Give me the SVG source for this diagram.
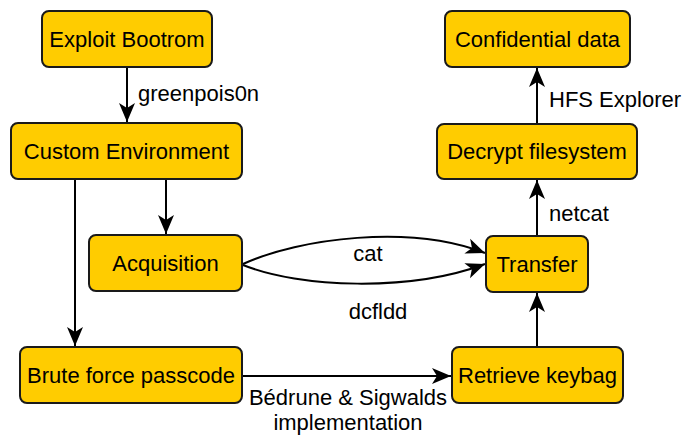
<svg xmlns="http://www.w3.org/2000/svg" width="686" height="437" viewBox="0 0 686 437">
<style>
.box{fill:#ffcc00;stroke:#1a1a1a;stroke-width:2}
.t{font-family:"Liberation Sans",Arial,sans-serif;font-size:22px;fill:#000;text-anchor:middle}
.l{font-family:"Liberation Sans",Arial,sans-serif;font-size:22px;fill:#000}
.e{fill:none;stroke:#000;stroke-width:2}
</style>
<defs>
<marker id="ah" markerUnits="userSpaceOnUse" markerWidth="24" markerHeight="24" viewBox="0 0 24 24" refX="20" refY="12" orient="auto">
<path d="M1,4 L20,12 L1,20 L6,12 Z" fill="#000"/>
</marker>
</defs>
<g id="connectors">
<path class="e" d="M127,67 V122" marker-end="url(#ah)"/>
<path class="e" d="M166,179 V234" marker-end="url(#ah)"/>
<path class="e" d="M75,179 V346" marker-end="url(#ah)"/>
<path class="e" d="M242,376 H451" marker-end="url(#ah)"/>
<path class="e" d="M537,347 V293" marker-end="url(#ah)"/>
<path class="e" d="M537,236 V180" marker-end="url(#ah)"/>
<path class="e" d="M537,124 V68" marker-end="url(#ah)"/>
<path class="e" d="M243,264 C300,238 410,224 485,253" marker-end="url(#ah)"/>
<path class="e" d="M243,265 C300,288 410,292 485,264" marker-end="url(#ah)"/>
<text class="l" x="138" y="101">greenpois0n</text>
<text class="l" x="549" y="107">HFS Explorer</text>
<text class="l" x="549" y="221">netcat</text>
<text class="l" x="368" y="261" text-anchor="middle">cat</text>
<text class="l" x="378" y="319" text-anchor="middle">dcfldd</text>
<text class="l" x="348" y="405" text-anchor="middle">Bédrune &amp; Sigwalds</text>
<text class="l" x="348" y="430" text-anchor="middle">implementation</text>
</g>
<g id="exploit"><rect class="box" x="42" y="11" width="170" height="56" rx="7"/><text class="t" x="127" y="47">Exploit Bootrom</text></g>
<g id="custom"><rect class="box" x="11" y="123" width="231" height="56" rx="7"/><text class="t" x="126.5" y="159">Custom Environment</text></g>
<g id="acquisition"><rect class="box" x="89" y="235" width="153" height="56" rx="7"/><text class="t" x="165.5" y="271">Acquisition</text></g>
<g id="brute"><rect class="box" x="20" y="347" width="222" height="56" rx="7"/><text class="t" x="131" y="383">Brute force passcode</text></g>
<g id="keybag"><rect class="box" x="452" y="347" width="171" height="56" rx="7"/><text class="t" x="537.5" y="383">Retrieve keybag</text></g>
<g id="transfer"><rect class="box" x="486" y="236" width="102" height="56" rx="7"/><text class="t" x="537" y="272">Transfer</text></g>
<g id="decrypt"><rect class="box" x="437" y="124" width="200" height="55" rx="7"/><text class="t" x="537" y="159">Decrypt filesystem</text></g>
<g id="confidential"><rect class="box" x="445" y="11" width="185" height="56" rx="7"/><text class="t" x="537.5" y="47">Confidential data</text></g>
</svg>
